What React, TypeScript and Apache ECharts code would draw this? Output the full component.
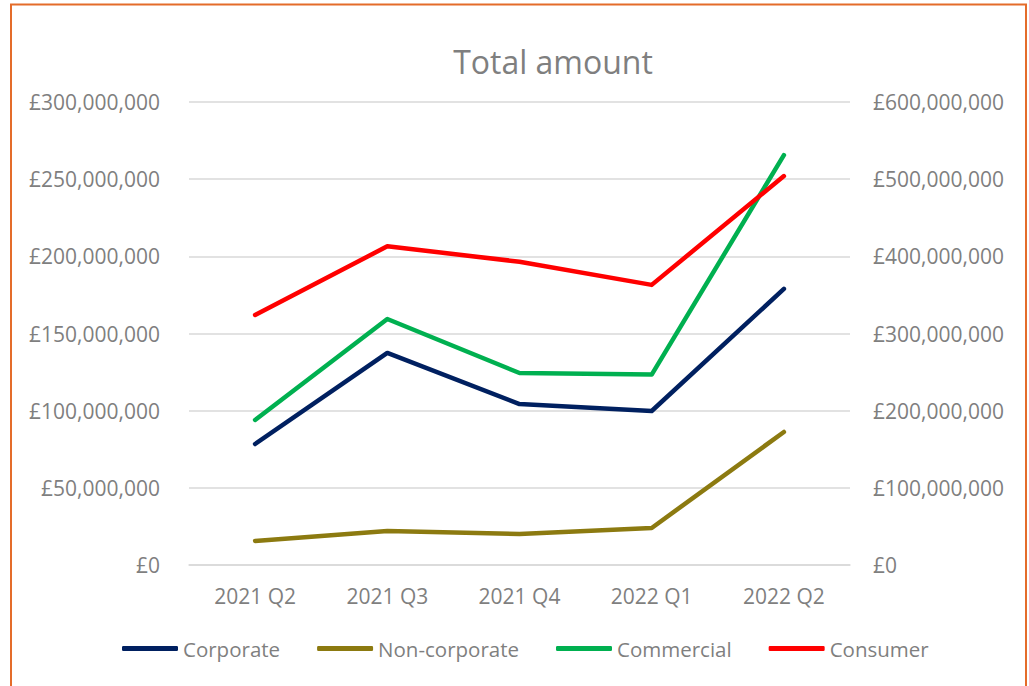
import React, { useEffect, useRef } from "react";
import * as echarts from "echarts";

const categories = ["2021 Q2", "2021 Q3", "2021 Q4", "2022 Q1", "2022 Q2"];
const corporate = [78.4e6, 137.4e6, 104.3e6, 99.8e6, 178.9e6];
const nonCorporate = [15.6e6, 22.0e6, 20.1e6, 24.0e6, 86.2e6];
const commercial = [94.0e6, 159.4e6, 124.4e6, 123.4e6, 265.6e6];
const consumer = [324e6, 413e6, 393e6, 363e6, 504e6];

const FONT = "'Open Sans', 'Noto Sans', sans-serif";
const GREY = "#7f7f7f";

const fmt = (v: number) => "£" + Math.round(v).toLocaleString("en-GB");

export default function App() {
  const ref = useRef<HTMLDivElement>(null);
  useEffect(() => {
    document.body.style.margin = "0";
    const chart = echarts.init(ref.current!, null, { renderer: "svg" });
    const lineSeries = (name: string, data: number[], color: string, yAxisIndex: number) => ({
      name,
      type: "line",
      data,
      yAxisIndex,
      symbol: "none",
      lineStyle: { color, width: 4.5, cap: "round", join: "round" },
      itemStyle: { color },
    });
    chart.setOption({
      animation: false,
      backgroundColor: "#fff",
      title: {
        text: "Total amount",
        left: 548,
        top: 40,
        textAlign: "center",
        textStyle: { fontFamily: FONT, fontSize: 32, fontWeight: "normal", color: GREY },
      },
      grid: { left: 189, right: 179, top: 102, bottom: 121 },
      legend: {
        bottom: 27,
        left: 122,
        padding: 0,
        itemWidth: 56,
        itemHeight: 5,
        itemGap: 37,
        icon: "roundRect",
        textStyle: { fontFamily: FONT, fontSize: 20.5, color: GREY },
        data: ["Corporate", "Non-corporate", "Commercial", "Consumer"],
      },
      xAxis: {
        type: "category",
        data: categories,
        boundaryGap: true,
        axisLine: { lineStyle: { color: "#d9d9d9", width: 1.5 } },
        axisTick: { show: false },
        axisLabel: { fontFamily: FONT, fontSize: 21, color: GREY, margin: 20 },
      },
      yAxis: [
        {
          type: "value",
          min: 0,
          max: 300e6,
          interval: 50e6,
          axisLine: { show: false },
          axisTick: { show: false },
          splitLine: { lineStyle: { color: "#d9d9d9", width: 1.5 } },
          axisLabel: { fontFamily: FONT, fontSize: 21, color: GREY, margin: 29, formatter: fmt },
        },
        {
          type: "value",
          min: 0,
          max: 600e6,
          interval: 100e6,
          position: "right",
          axisLine: { show: false },
          axisTick: { show: false },
          splitLine: { show: false },
          axisLabel: { fontFamily: FONT, fontSize: 21, color: GREY, margin: 23, formatter: fmt },
        },
      ],
      series: [
        lineSeries("Corporate", corporate, "#002060", 0),
        lineSeries("Non-corporate", nonCorporate, "#8c7a10", 0),
        lineSeries("Commercial", commercial, "#00b050", 0),
        lineSeries("Consumer", consumer, "#ff0000", 1),
      ],
      graphic: [
        {
          type: "rect",
          shape: { x: 11, y: 4.5, width: 1015, height: 700 },
          style: { fill: "none", stroke: "#e46c2a", lineWidth: 2 },
          silent: true,
        },
      ],
    });
    return () => chart.dispose();
  }, []);
  return <div ref={ref} style={{ width: 1029, height: 686 }} />;
}
